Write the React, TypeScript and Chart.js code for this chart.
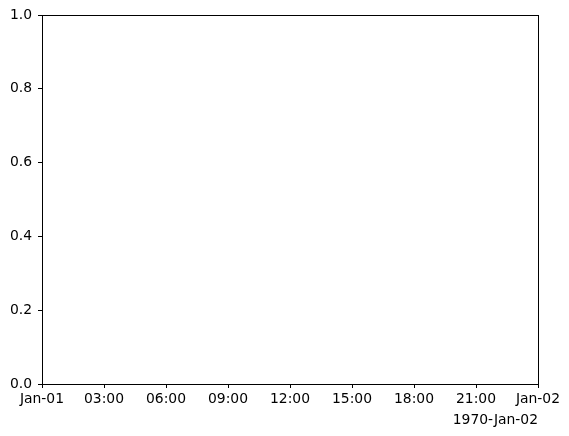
import React, { useEffect, useRef } from "react";
import { Chart, registerables } from "chart.js";

Chart.register(...registerables);

const xTickLabels = ["Jan-01", "03:00", "06:00", "09:00", "12:00", "15:00", "18:00", "21:00", "Jan-02"];
const xHours = [0, 3, 6, 9, 12, 15, 18, 21, 24];
const offsetLabel = "1970-Jan-02";
const yMin = 0;
const yMax = 1;
const yStep = 0.2;
const seriesValues: { x: number; y: number }[] = [];

const FONT = "'DejaVu Sans', sans-serif";

export default function App() {
  const ref = useRef<HTMLCanvasElement | null>(null);
  useEffect(() => {
    document.body.style.margin = "0";
    if (!ref.current) return;
    const frame = {
      id: "frame",
      afterDraw(chart: any) {
        const { ctx, chartArea } = chart;
        ctx.save();
        ctx.strokeStyle = "#000";
        ctx.lineWidth = 1;
        ctx.strokeRect(
          Math.round(chartArea.left) + 0.5,
          Math.round(chartArea.top) + 0.5,
          Math.round(chartArea.right - chartArea.left),
          Math.round(chartArea.bottom - chartArea.top)
        );
        ctx.restore();
      },
    };
    const chart = new Chart(ref.current, {
      type: "scatter",
      data: { datasets: [{ data: seriesValues, label: "series" }] },
      options: {
        animation: false,
        responsive: false,
        maintainAspectRatio: false,
        layout: { padding: { top: 15, right: 31, left: 0, bottom: 7 } },
        plugins: { legend: { display: false }, tooltip: { enabled: false } },
        scales: {
          x: {
            type: "linear",
            min: xHours[0],
            max: xHours[xHours.length - 1],
            afterBuildTicks: (axis: any) => {
              axis.ticks = xHours.map((v) => ({ value: v }));
            },
            afterFit: (axis: any) => {
              axis.height = 45;
            },
            grid: { drawOnChartArea: false, drawTicks: true, tickLength: 4, color: "#000" },
            border: { display: false },
            ticks: {
              color: "#000",
              font: { family: FONT, size: 13.9 },
              padding: 3,
              maxRotation: 0,
              autoSkip: false,
              callback: (v: any) => {
                const i = xHours.indexOf(Number(v));
                return i >= 0 ? xTickLabels[i] : "";
              },
            },
            title: {
              display: true,
              text: offsetLabel,
              align: "end",
              color: "#000",
              font: { family: FONT, size: 13.9 },
              padding: { top: 0, bottom: 0 },
            },
          },
          y: {
            type: "linear",
            min: yMin,
            max: yMax,
            afterFit: (axis: any) => {
              axis.width = 42;
            },
            grid: { drawOnChartArea: false, drawTicks: true, tickLength: 4, color: "#000" },
            border: { display: false },
            ticks: {
              stepSize: yStep,
              color: "#000",
              font: { family: FONT, size: 13.9 },
              padding: 6,
              callback: (v: any) => Number(v).toFixed(1),
            },
          },
        },
      },
      plugins: [frame],
    } as any);
    return () => chart.destroy();
  }, []);
  return (
    <div style={{ position: "absolute", left: 0, top: 0, width: 569, height: 436, background: "#fff" }}>
      <canvas ref={ref} width={569} height={436} style={{ width: 569, height: 436 }} />
    </div>
  );
}
